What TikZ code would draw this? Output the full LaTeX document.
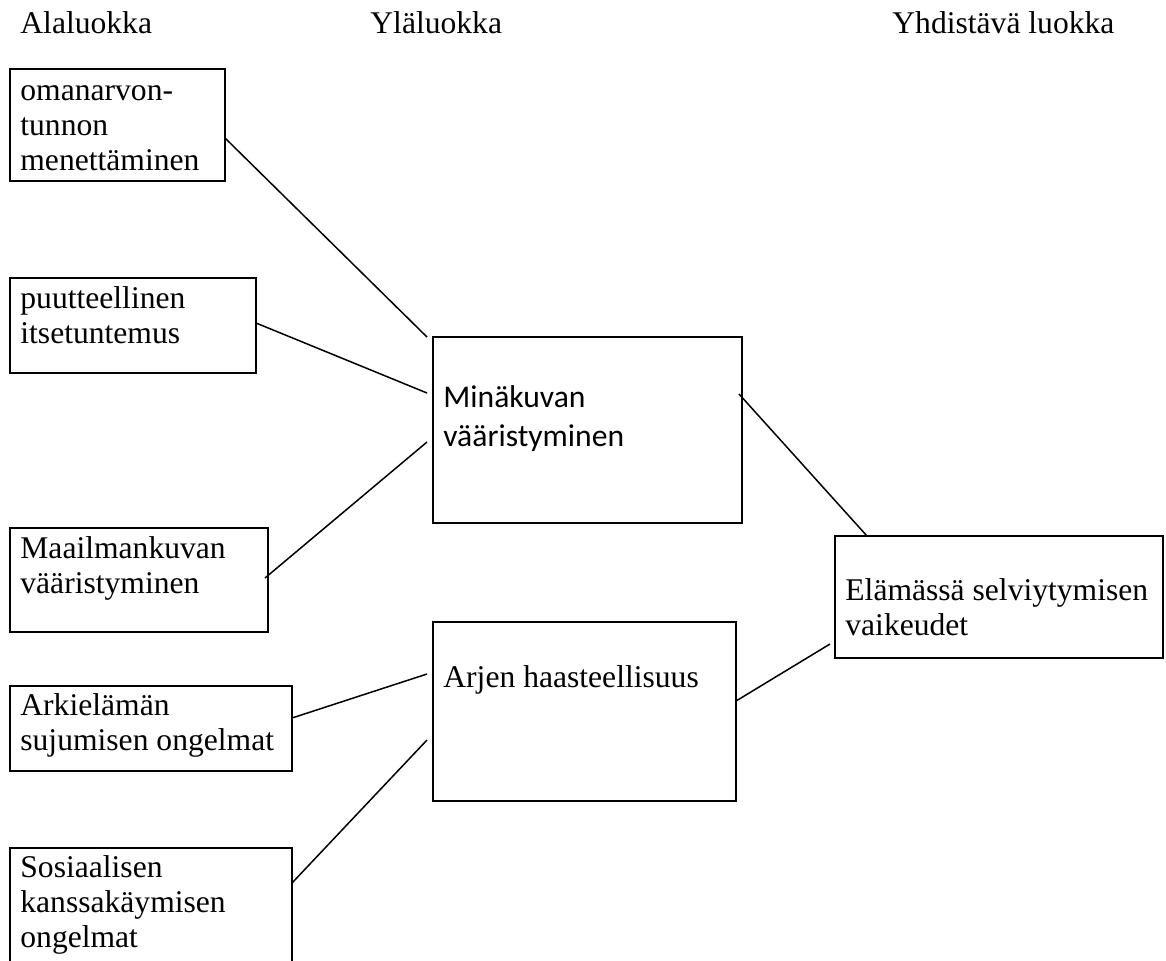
\documentclass[tikz,border=0pt]{standalone}
\usepackage{fontspec}
\setmainfont{Liberation Serif}
\newfontfamily\calibrifont{Carlito}
\newcommand{\boxlines}[1]{\begin{tabular}[t]{@{}l@{}}#1\end{tabular}}
\begin{document}
\begin{tikzpicture}[x=0.5pt,y=-0.5pt,
  box/.style={draw,line width=1pt,rectangle,inner sep=0pt,outer sep=0pt,anchor=north west},
  lbl/.style={anchor=base west,inner sep=0pt,font=\fontsize{15.8}{17.5}\selectfont},
  slbl/.style={anchor=base west,inner sep=0pt,font=\calibrifont\fontsize{15.8}{19.5}\selectfont},
  link/.style={line width=0.75pt}]
\useasboundingbox (0,0) rectangle (1166,960);
\clip (0,0) rectangle (1166,960);
% headers
\node[lbl] (h1) at (20,33) {Alaluokka};
\node[lbl] (h2) at (370,33) {Yläluokka};
\node[lbl] (h3) at (892,33) {Yhdistävä luokka};
% subcategory boxes
\node[box,minimum width=107.5pt,minimum height=56pt] (a1) at (10,69) {};
\node[box,minimum width=123pt,minimum height=47.5pt] (a2) at (10,278) {};
\node[box,minimum width=129pt,minimum height=52pt] (a3) at (10,528) {};
\node[box,minimum width=141pt,minimum height=42.5pt] (a4) at (10,686) {};
\node[box,minimum width=141pt,minimum height=80pt] (a5) at (10,848) {};
% upper category boxes
\node[box,minimum width=154.5pt,minimum height=93pt] (b1) at (433,337) {};
\node[box,minimum width=151.5pt,minimum height=89.5pt] (b2) at (433,622) {};
% combining category box
\node[box,minimum width=164pt,minimum height=61pt] (c) at (835,536) {};
% texts
\node[lbl] (t1) at (20,100) {\boxlines{omanarvon-\\tunnon\\menettäminen}};
\node[lbl] (t2) at (20,308) {\boxlines{puutteellinen\\itsetuntemus}};
\node[lbl] (t3) at (20,558) {\boxlines{Maailmankuvan\\vääristyminen}};
\node[lbl] (t4) at (20,715) {\boxlines{Arkielämän\\sujumisen ongelmat}};
\node[lbl] (t5) at (20,877) {\boxlines{Sosiaalisen\\kanssakäymisen\\ongelmat}};
\node[slbl] (tb1) at (443,407) {\boxlines{Minäkuvan\\vääristyminen}};
\node[lbl] (tb2) at (443,687) {Arjen haasteellisuus};
\node[lbl] (tc) at (845,600) {\boxlines{Elämässä selviytymisen\\vaikeudet}};
% connectors
\draw[link] ([yshift=-34.5pt]a1.north east) -- ([xshift=-3pt]b1.north west);
\draw[link] ([yshift=-22.5pt]a2.north east) -- ([shift={(-3pt,-28pt)}]b1.north west);
\draw[link] ([shift={(-1.5pt,-25pt)}]a3.north east) -- ([shift={(-3pt,-52.5pt)}]b1.north west);
\draw[link] ([yshift=-16pt]a4.north east) -- ([shift={(-3pt,-26pt)}]b2.north west);
\draw[link] ([yshift=-17.5pt]a5.north east) -- ([shift={(-3pt,-59pt)}]b2.north west);
\draw[link] ([shift={(-1.5pt,-28.5pt)}]b1.north east) -- ([xshift=16pt]c.north west);
\draw[link] ([yshift=-39.5pt]b2.north east) -- ([shift={(-2.5pt,-54pt)}]c.north west);
\end{tikzpicture}
\end{document}
